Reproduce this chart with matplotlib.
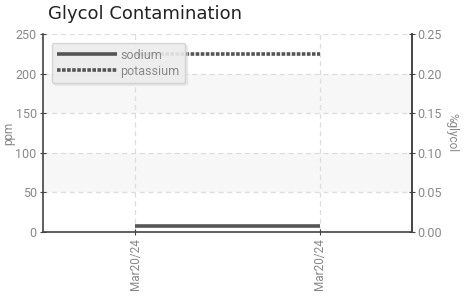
import matplotlib
matplotlib.use("Agg")
import matplotlib.pyplot as plt

cond = "Roboto"

dates = ["Mar20/24", "Mar20/24"]
sodium = [7, 7]
potassium = [225, 225]
ppm_ticks = [0, 50, 100, 150, 200, 250]
glycol_ticks = [0.00, 0.05, 0.10, 0.15, 0.20, 0.25]

fig = plt.figure(figsize=(4.77, 2.97), dpi=100)
ax = fig.add_axes([43/477, 1-232/297, (412-43)/477, (232-34)/297])
x = list(range(len(dates)))

for lo in (50, 150):
    ax.axhspan(lo, lo+50, color="#f7f7f7", zorder=0, lw=0)
ax.set_ylim(0, 250)
ax.set_xlim(-0.5, len(dates)-0.5)
ax.set_yticks(ppm_ticks)
ax.set_xticks(x)
ax.set_xticklabels(dates, rotation=90, family=cond, fontsize=8.5, color="#888888")
ax.grid(True, ls=(0, (4, 3)), color="#dddddd", lw=0.9)
ax.set_axisbelow(True)

ax.plot(x, sodium, color="#555555", lw=2.6, solid_capstyle="butt", label="sodium", zorder=3)
ax.plot(x, potassium, color="#555555", lw=2.6, ls=(0, (1, 0.4)), label="potassium", zorder=3)

ax.spines["top"].set_visible(False)
for s in ("left", "right", "bottom"):
    ax.spines[s].set_color("#444444")
    ax.spines[s].set_linewidth(1.2)
ax.tick_params(axis="both", direction="inout", length=5, color="#444444", labelcolor="#888888", pad=2)
for t in ax.get_yticklabels():
    t.set_family(cond); t.set_fontsize(9)
ax.set_ylabel("ppm", family=cond, fontsize=8.5, color="#888888")
ax.yaxis.set_label_coords(-0.074, 0.5)

ax2 = ax.twinx()
ax2.set_ylim(0, 0.25)
ax2.set_yticks(glycol_ticks)
ax2.set_yticklabels([f"{v:.2f}" for v in glycol_ticks], family=cond, fontsize=9, color="#888888")
ax2.tick_params(axis="y", direction="inout", length=5, color="#444444", pad=1)
for s in ("top", "left", "bottom"):
    ax2.spines[s].set_visible(False)
ax2.spines["right"].set_color("#444444")
ax2.spines["right"].set_linewidth(1.2)
ax2.set_ylabel("%glycol", family=cond, fontsize=8.5, color="#888888", rotation=270, labelpad=12)

leg = ax.legend(loc="upper left", bbox_to_anchor=(0.024, 0.955), borderaxespad=0,
                prop={"family": cond, "size": 9}, labelcolor="#888888",
                handlelength=4.8, handletextpad=0.25, borderpad=0.45,
                labelspacing=0.25, fancybox=True,
                shadow={"color": "#dddddd", "ox": 1.5, "oy": -1.5},
                framealpha=0.8, facecolor="#eeeeee", edgecolor="#cccccc")
leg.set_zorder(5)

fig.text(48/477, 1-14/297, "Glycol Contamination", fontsize=13, color="#222222", va="center",
         family="DejaVu Sans")
fig.savefig("out.png", dpi=100)
